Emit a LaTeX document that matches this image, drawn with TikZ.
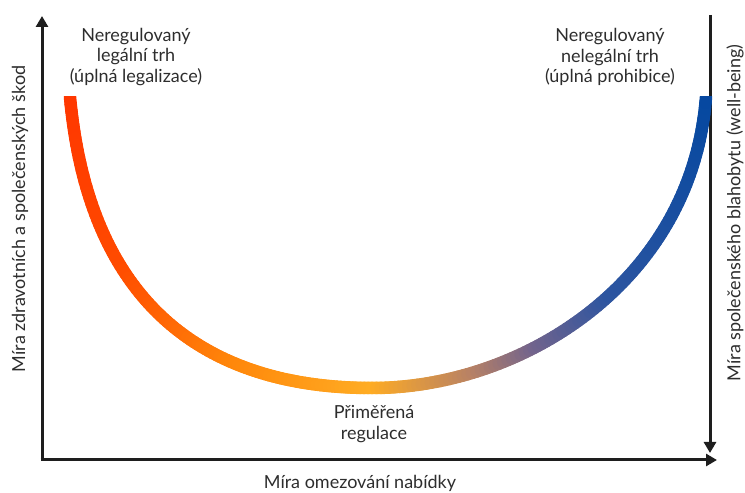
\documentclass[tikz,border=0pt]{standalone}
\usepackage{fontspec}
\setmainfont{Lato}
\usetikzlibrary{arrows.meta, positioning, calc}
\definecolor{AxisDark}{RGB}{30, 30, 30}
\definecolor{TextDark}{RGB}{45, 45, 45}
\definecolor{ArcA}{RGB}{255, 55, 0}
\definecolor{ArcB}{RGB}{255, 75, 0}
\definecolor{ArcC}{RGB}{255, 135, 10}
\definecolor{ArcD}{RGB}{255, 172, 35}
\definecolor{ArcE}{RGB}{185, 130, 100}
\definecolor{ArcF}{RGB}{115, 100, 140}
\definecolor{ArcG}{RGB}{45, 85, 160}
\definecolor{ArcH}{RGB}{5, 72, 160}

\begin{document}
\begin{tikzpicture}[x=1pt, y=1pt,
    axis/.style={AxisDark, line width=3pt, -{Triangle[length=11pt, width=12pt]}},
    lbl/.style={TextDark, align=center, font=\fontsize{18}{20.5}\selectfont},
    declare function={
      bz(\a,\b,\c,\d,\s) = \a*(1-\s)^3 + 3*\b*(1-\s)^2*\s + 3*\c*(1-\s)*\s^2 + \d*\s^3;
      ux(\u) = (\u<100) ? bz(70,92,242,372,\u/100) : bz(372,522,692,706,(\u-100)/100);
      uy(\u) = (\u<100) ? bz(396,156,105,105,\u/100) : bz(105,105,211,396,(\u-100)/100);
    }]
    \useasboundingbox (0,0) rectangle (745,493);
    \coordinate (O) at (42,33);
    \coordinate (ytip) at (42,477);
    \coordinate (xtip) at (717,33);
    \coordinate (rtop) at (710,478);
    \coordinate (rtip) at (710,40);

    % axes
    \draw[axis] (O) -- (ytip);
    \draw[axis] ($(O)+(-1.5,0)$) -- (xtip);
    \draw[axis] (rtop) -- (rtip);

    % U curve, coloured piece by piece
    \begin{scope}
        \clip (0,0) rectangle (745,396);
        \foreach \ca/\cb/\ua/\ub in {ArcA/ArcB/0/30, ArcB/ArcC/30/65, ArcC/ArcD/65/100,
                                    ArcD/ArcE/100/122, ArcE/ArcF/122/136, ArcF/ArcG/136/155, ArcG/ArcH/155/200}{
            \pgfmathtruncatemacro\ue{\ub-1}
            \foreach \u in {\ua,...,\ue}{
                \pgfmathsetmacro\p{100*(\u-\ua)/(\ub-\ua)}
                \draw[line width=12.5pt, line cap=round, draw=\cb!\p!\ca]
                    ({ux(\u)},{uy(\u)}) -- ({ux(\u+1)},{uy(\u+1)});
            }
        }
    \end{scope}

    \node[lbl] (legal) at (136,436) {Neregulovaný\\legální trh\\(úplná legalizace)};
    \node[lbl] (illegal) at (610,436) {Neregulovaný\\nelegální trh\\(úplná prohibice)};
    \node[lbl] (mid) at (374,69) {Přiměřená\\regulace};
    \node[lbl] (xlab) at (360,10) {Míra omezování nabídky};
    \node[lbl, rotate=90] (ylab) at (20,274) {Míra zdravotních a společenských škod};
    \node[lbl, rotate=90] (rlab) at (735,280) {Míra společenského blahobytu (well-being)};
\end{tikzpicture}
\end{document}
